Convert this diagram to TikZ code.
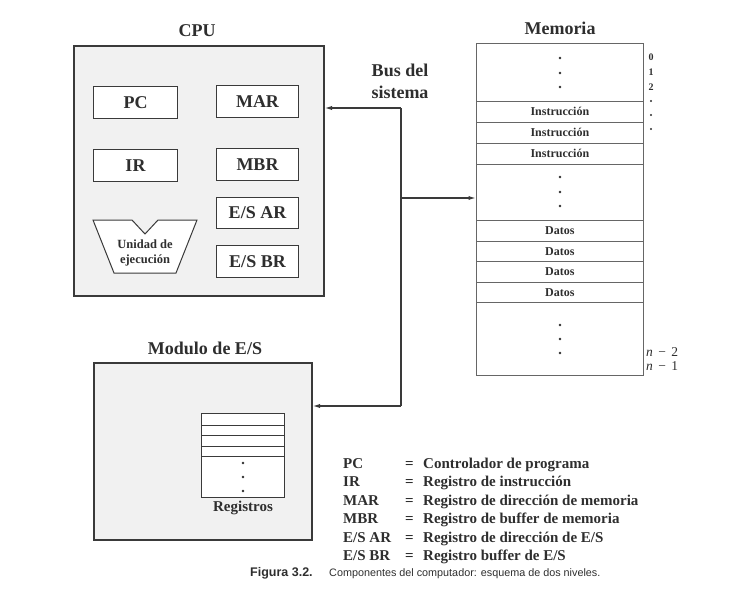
\documentclass[tikz,border=0pt]{standalone}
\usepackage{fontspec}
\setmainfont{Liberation Serif}
\newfontfamily\capfont{Liberation Sans}
\usetikzlibrary{arrows.meta}
\definecolor{ink}{HTML}{2E2E2E}
\definecolor{edgec}{HTML}{3A3A3A}
\definecolor{panel}{HTML}{F1F1F1}
\definecolor{thinc}{HTML}{666666}
\tikzset{
  panelbox/.style={draw=edgec, line width=1.5pt, fill=panel, inner sep=0pt, anchor=north west},
  regbox/.style={draw=edgec, line width=1pt, fill=white, inner sep=0pt, anchor=north west,
    text=ink, font=\fontsize{18}{20}\selectfont\bfseries},
  memrow/.style={draw=thinc, line width=0.8pt, fill=white, inner sep=0pt, anchor=north west,
    minimum width=167pt, text=ink, font=\fontsize{12}{14}\selectfont\bfseries},
  iorow/.style={draw=edgec, line width=0.8pt, fill=white, inner sep=0pt, anchor=north west,
    minimum width=83pt},
  title/.style={text=ink, inner sep=0pt, font=\fontsize{18}{22}\selectfont\bfseries, align=center},
  smalllab/.style={text=ink, inner sep=0pt, font=\fontsize{10}{12}\selectfont\bfseries},
  nlab/.style={text=ink, inner sep=0pt, anchor=west, font=\fontsize{13.5}{15}\selectfont},
  leg/.style={text=ink, inner sep=0pt, anchor=base west, font=\fontsize{15}{18}\selectfont\bfseries},
  bus/.style={draw=edgec, line width=1.3pt},
  tip/.style={-{Latex[length=7.5pt,width=4.2pt]}},
  dot/.style={fill=ink},
  capt/.style={text=ink, inner sep=0pt, anchor=base west},
}
\begin{document}
\begin{tikzpicture}[x=1pt,y=-1pt]
\useasboundingbox (0,0) rectangle (752,613);

% CPU
\node[title] (cputitle) at (197,31) {CPU};
\node[panelbox, minimum width=250pt, minimum height=250pt] (cpu) at (73,45) {};
\node[regbox, minimum width=84pt, minimum height=32pt] (pc) at (93,86) {PC};
\node[regbox, minimum width=82pt, minimum height=32pt] (mar) at (216,85) {MAR};
\node[regbox, minimum width=84pt, minimum height=32pt] (ir) at (93,149) {IR};
\node[regbox, minimum width=82pt, minimum height=32pt] (mbr) at (216,148) {MBR};
\node[regbox, minimum width=82pt, minimum height=31pt] (esar) at (216,197) {E/S AR};
\node[regbox, minimum width=82pt, minimum height=32pt] (esbr) at (216,245) {E/S BR};
\draw[draw=edgec, line width=1pt, fill=white]
  (93,220) -- (132,220) -- (145,234) -- (158,220) -- (197,220) -- (176,273) -- (114,273) -- cycle;
\node[text=ink, inner sep=0pt, align=center, font=\fontsize{12.5}{15}\selectfont\bfseries] (exec) at (145,253) {Unidad de\\ejecución};

% Memory
\node[title] (memtitle) at (560,28) {Memoria};
\node[memrow, minimum height=58pt] (m0) at (476,43) {};
\node[memrow, minimum height=21pt] (i1) at (476,101) {Instrucción};
\node[memrow, minimum height=21pt] (i2) at (476,122) {Instrucción};
\node[memrow, minimum height=21pt] (i3) at (476,143) {Instrucción};
\node[memrow, minimum height=56pt] (mmid) at (476,164) {};
\node[memrow, minimum height=21pt] (d1) at (476,220) {Datos};
\node[memrow, minimum height=20pt] (d2) at (476,241) {Datos};
\node[memrow, minimum height=21pt] (d3) at (476,261) {Datos};
\node[memrow, minimum height=20pt] (d4) at (476,282) {Datos};
\node[memrow, minimum height=73pt] (mend) at (476,302) {};
\foreach \y in {58,73,87,177,192,206,325,339,353} \fill[dot] (560,\y) circle (1.3pt);
\node[smalllab] (a0) at (651,57) {0};
\node[smalllab] (a1) at (651,72) {1};
\node[smalllab] (a2) at (651,87) {2};
\foreach \y in {101,115,129} \fill[dot] (651,\y) circle (1.1pt);
\node[nlab] (an2) at (646,352) {\textit{n}\hspace{0.4em}−\hspace{0.4em}2};
\node[nlab] (an1) at (646,366) {\textit{n}\hspace{0.4em}−\hspace{0.4em}1};

% I/O module
\node[title] (iotitle) at (205,348) {Modulo de E/S};
\node[panelbox, minimum width=218pt, minimum height=177pt] (io) at (93,362) {};
\node[iorow, minimum height=12pt] (r1) at (201,413) {};
\node[iorow, minimum height=10pt] (r2) at (201,425) {};
\node[iorow, minimum height=11pt] (r3) at (201,435) {};
\node[iorow, minimum height=10pt] (r4) at (201,446) {};
\node[iorow, minimum height=41pt] (r5) at (201,456) {};
\foreach \y in {463,477,491} \fill[dot] (243,\y) circle (1.3pt);
\node[text=ink, inner sep=0pt, font=\fontsize{15}{18}\selectfont\bfseries] (reglab) at (243,508) {Registros};

% Bus
\node[title] (bustitle) at (400,81) {Bus del\\sistema};
\coordinate (bt) at (401,108);
\coordinate (bm) at (401,198);
\coordinate (bb) at (401,406);
\draw[bus] (bt) -- (bb);
\draw[bus, tip] (bt) -- (cpu.east |- bt);
\draw[bus, tip] (bm) -- (mmid.west |- bm);
\draw[bus, tip] (bb) -- (io.east |- bb);

% Legend
\node[leg] (l1) at (343,468) {\makebox[62pt][l]{PC}\makebox[18pt][l]{=}Controlador de programa};
\node[leg] (l2) at (343,486.5) {\makebox[62pt][l]{IR}\makebox[18pt][l]{=}Registro de instrucción};
\node[leg] (l3) at (343,505) {\makebox[62pt][l]{MAR}\makebox[18pt][l]{=}Registro de dirección de memoria};
\node[leg] (l4) at (343,523.5) {\makebox[62pt][l]{MBR}\makebox[18pt][l]{=}Registro de buffer de memoria};
\node[leg] (l5) at (343,542) {\makebox[62pt][l]{E/S AR}\makebox[18pt][l]{=}Registro de dirección de E/S};
\node[leg] (l6) at (343,560.5) {\makebox[62pt][l]{E/S BR}\makebox[18pt][l]{=}Registro buffer de E/S};

% Caption
\node[capt, font=\capfont\fontsize{12.5}{14}\selectfont\bfseries] (capfig) at (250,576) {Figura 3.2.};
\node[capt, font=\capfont\fontsize{10.8}{13}\selectfont] (captxt) at (329,576) {Componentes del computador: esquema de dos niveles.};
\end{tikzpicture}
\end{document}
